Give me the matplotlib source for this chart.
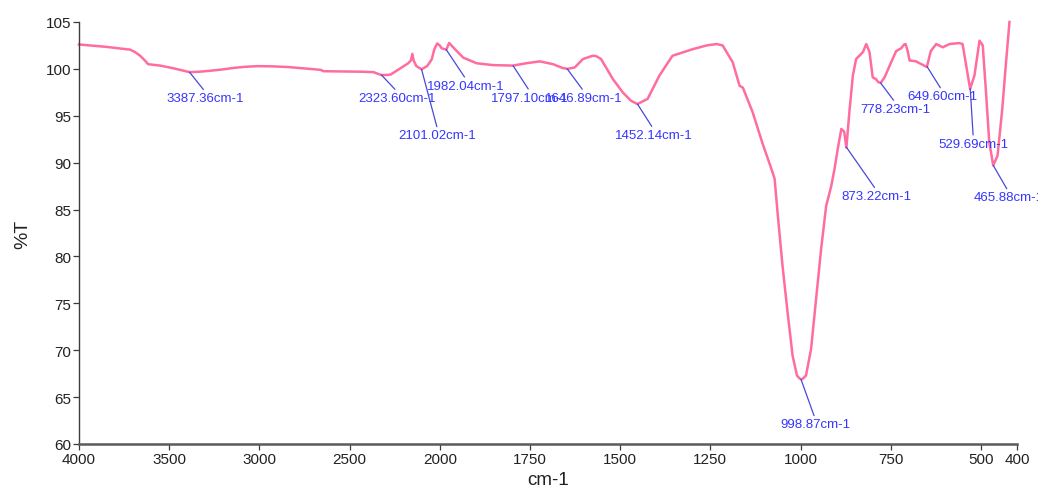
"""FTIR transmittance spectrum with labelled peaks (split wavenumber scale at 2000 cm-1)."""
import matplotlib
matplotlib.use("Agg")
import matplotlib.pyplot as plt
from matplotlib.ticker import FixedLocator, NullLocator, FuncFormatter
import numpy as np

plt.rcParams['font.family'] = ['Liberation Sans', 'DejaVu Sans']

# spectrum (cm-1, %T), high -> low wavenumber
WAVENUMBER = [
    4000, 3850, 3717, 3690, 3661, 3630, 3617, 3550, 3478, 3420, 3387, 3330,
    3272, 3200, 3144, 3080, 3011, 2930, 2844, 2750, 2661, 2644, 2540, 2439,
    2367, 2340, 2323, 2290, 2272, 2240, 2200, 2175, 2160, 2152, 2145, 2130,
    2101, 2070, 2045, 2030, 2015, 2000, 1995, 1982, 1974, 1958, 1935, 1898,
    1852, 1797, 1760, 1723, 1686, 1660, 1646, 1626, 1603, 1576, 1566, 1553,
    1520, 1493, 1470, 1452, 1424, 1391, 1355, 1299, 1260, 1233, 1216, 1188,
    1169, 1160, 1133, 1105, 1085, 1072, 1063, 1050, 1035, 1022, 1010, 1003,
    999, 994, 985, 971, 957, 943, 929, 915, 906, 897, 887, 879, 873, 864,
    855, 846, 827, 818, 809, 800, 791, 785, 778, 767, 749, 735, 721, 713,
    709, 703, 698, 680, 657, 650, 639, 624, 606, 587, 560, 551, 541, 530,
    518, 504, 495, 486, 477, 466, 454, 441, 432, 421,
]
TRANSMITTANCE = [
    102.6, 102.35, 102.05, 101.8, 101.4, 100.8, 100.5, 100.35, 100.07, 99.8, 99.65, 99.7,
    99.8, 99.95, 100.1, 100.22, 100.29, 100.27, 100.2, 100.05, 99.9, 99.75, 99.72, 99.7,
    99.65, 99.45, 99.35, 99.35, 99.4, 99.8, 100.3, 100.6, 100.9, 101.6, 100.9, 100.3,
    99.95, 100.3, 101.0, 102.1, 102.7, 102.5, 102.2, 102.05, 102.76, 102.1, 101.2, 100.6,
    100.4, 100.35, 100.6, 100.8, 100.5, 100.1, 100.0, 100.15, 101.05, 101.4, 101.35, 101.05,
    98.9, 97.5, 96.6, 96.25, 96.8, 99.3, 101.4, 102.1, 102.5, 102.65, 102.5, 100.7,
    98.2, 98.0, 95.4, 92.0, 89.8, 88.3, 84.35, 79.0, 73.7, 69.4, 67.3, 67.0,
    66.9, 66.95, 67.3, 70.1, 75.5, 80.8, 85.4, 87.5, 89.3, 91.45, 93.6, 93.3, 91.6, 95.7,
    99.3, 101.05, 101.8, 102.65, 101.8, 99.1, 98.9, 98.6, 98.5, 99.1, 100.7, 101.9, 102.2, 102.6,
    102.65, 101.9, 100.9, 100.8, 100.35, 100.2, 101.9, 102.65, 102.3, 102.65, 102.75, 102.65, 100.35, 97.86,
    99.3, 103.0, 102.5, 97.5, 92.2, 89.7, 90.75, 95.7, 100.0, 105.0,
]

PEAKS = [3387.36, 2323.60, 2101.02, 1982.04, 1797.10, 1646.89, 1452.14,
         998.87, 873.22, 778.23, 649.60, 529.69, 465.88]

XTICKS = [4000, 3500, 3000, 2500, 2000, 1750, 1500, 1250, 1000, 750, 500, 400]
YTICKS = [60, 65, 70, 75, 80, 85, 90, 95, 100, 105]

# where each peak label sits, in pixels from the peak (right, down)
LABEL_OFFSETS = [(16, 26), (16, 23), (16, 66), (20, 36), (17, 32), (17, 29), (16, 31),
                 (14, 45), (30, 49), (15, 26), (15, 30), (3, 55), (15, 32)]

LINE_COLOR = '#ff6ca0'
LABEL_COLOR = '#3535ff'
LEADER_COLOR = '#4848dc'


def _fwd(x):
    # 2000-4000 is drawn at half the scale of 400-2000
    x = np.asarray(x, dtype=float)
    return np.where(x >= 2000, 2000 + (x - 2000) * 0.5, x)


def _inv(u):
    u = np.asarray(u, dtype=float)
    return np.where(u >= 2000, 2000 + (u - 2000) * 2.0, u)


fig = plt.figure(figsize=(10.38, 4.89), dpi=100)
ax = fig.add_axes([0.0761, 0.0900, 0.9037, 0.8630])

ax.set_xscale('function', functions=(_fwd, _inv))
ax.plot(WAVENUMBER, TRANSMITTANCE, color=LINE_COLOR, lw=1.8, clip_on=False,
        solid_joinstyle='round')
ax.set_xlim(4000, 400)
ax.set_ylim(60, 105)

ax.xaxis.set_major_locator(FixedLocator(XTICKS))
ax.xaxis.set_minor_locator(NullLocator())
ax.xaxis.set_major_formatter(FuncFormatter(lambda v, p: f'{v:.0f}'))
ax.set_yticks(YTICKS)

for s in ('top', 'right'):
    ax.spines[s].set_visible(False)
ax.spines['left'].set_color('#3c3c3c')
ax.spines['left'].set_linewidth(1.0)
ax.spines['bottom'].set_color('#5a5a5a')
ax.spines['bottom'].set_linewidth(1.8)

ax.tick_params(axis='both', direction='out', length=4, width=0.9, color='#3c3c3c',
               labelsize=11, labelcolor='#222222', pad=1.5)

ax.set_xlabel('cm-1', fontsize=13.5, color='#222222', va='center')
ax.xaxis.set_label_coords(0.5, -0.085)
ax.set_ylabel('%T', fontsize=14, color='#222222', va='center')
ax.yaxis.set_label_coords(-0.06, 0.5)

wn_inc = np.array(WAVENUMBER)[::-1]
t_inc = np.array(TRANSMITTANCE)[::-1]
for peak, (dx, dy) in zip(PEAKS, LABEL_OFFSETS):
    t_at = np.interp(peak, wn_inc, t_inc)
    ax.annotate(f'{peak:.2f}cm-1', xy=(peak, t_at), xytext=(dx, -dy),
                textcoords='offset pixels', ha='center', va='center',
                fontsize=9.5, color=LABEL_COLOR,
                bbox=dict(boxstyle='square,pad=0.2', fc='none', ec='none'),
                arrowprops=dict(arrowstyle='-', color=LEADER_COLOR, lw=0.9,
                                shrinkA=0, shrinkB=0, relpos=(0.5, 1.0)))

fig.savefig('out.png', dpi=100)
